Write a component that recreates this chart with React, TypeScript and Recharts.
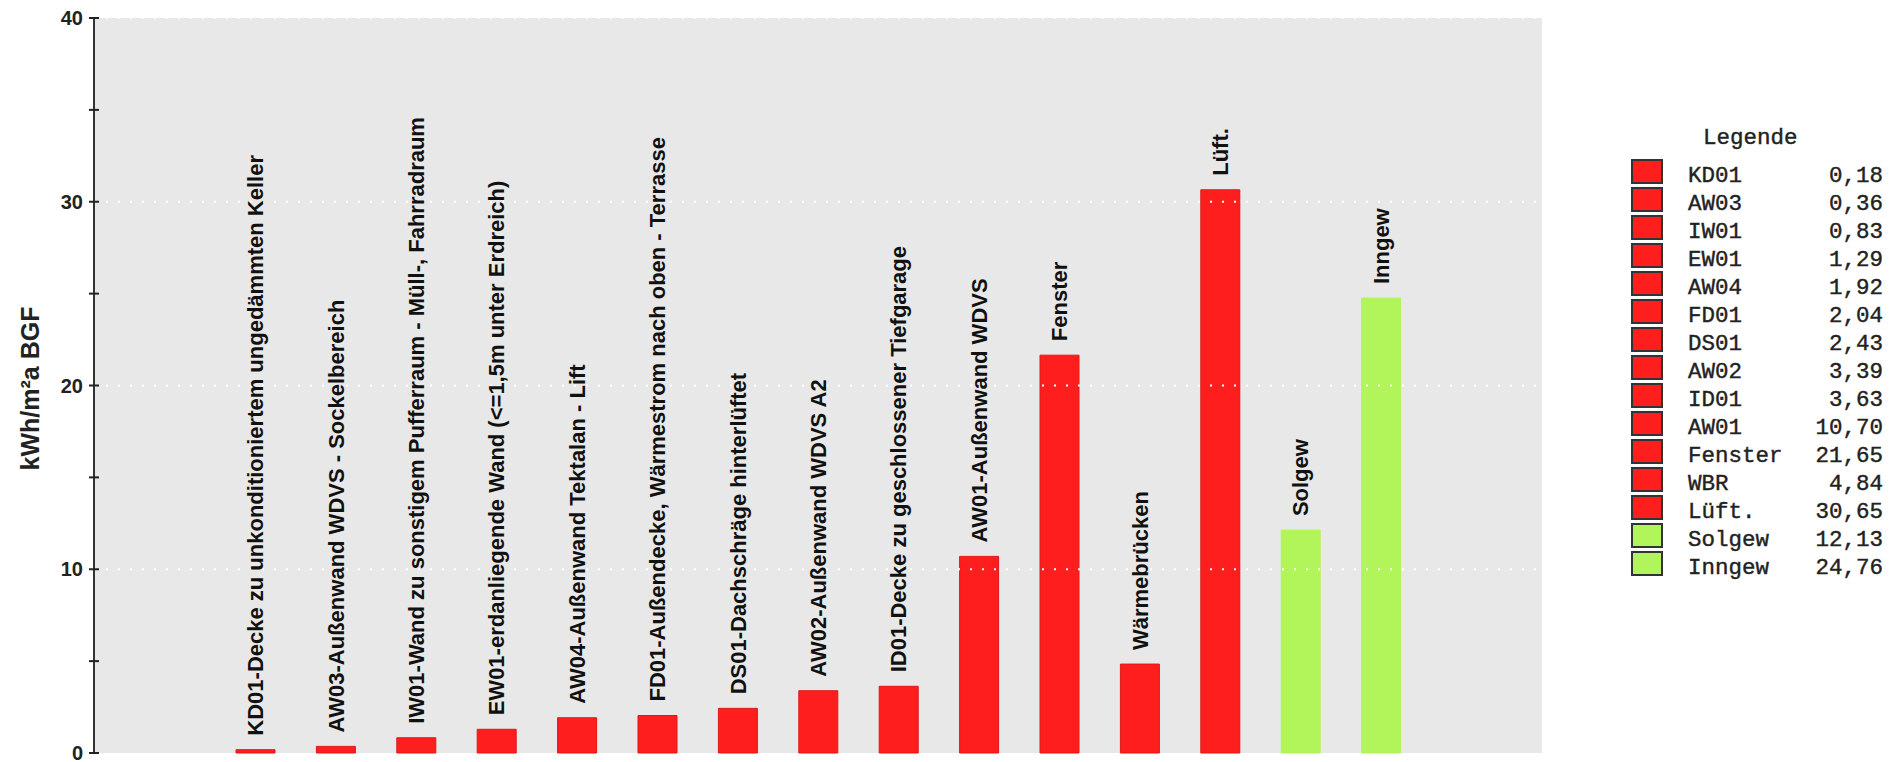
import React from 'react';
import { BarChart, Bar, XAxis, YAxis, Cell, LabelList, ReferenceLine, CartesianGrid } from 'recharts';

const codes = ['KD01', 'AW03', 'IW01', 'EW01', 'AW04', 'FD01', 'DS01', 'AW02', 'ID01', 'AW01', 'Fenster', 'WBR', 'Lüft.', 'Solgew', 'Inngew'];
const barLabels = [
  'KD01-Decke zu unkonditioniertem ungedämmten Keller',
  'AW03-Außenwand WDVS - Sockelbereich',
  'IW01-Wand zu sonstigem Pufferraum - Müll-, Fahrradraum',
  'EW01-erdanliegende Wand (<=1,5m unter Erdreich)',
  'AW04-Außenwand Tektalan - Lift',
  'FD01-Außendecke, Wärmestrom nach oben - Terrasse',
  'DS01-Dachschräge hinterlüftet',
  'AW02-Außenwand WDVS A2',
  'ID01-Decke zu geschlossener Tiefgarage',
  'AW01-Außenwand WDVS',
  'Fenster',
  'Wärmebrücken',
  'Lüft.',
  'Solgew',
  'Inngew',
];
const values = [0.18, 0.36, 0.83, 1.29, 1.92, 2.04, 2.43, 3.39, 3.63, 10.7, 21.65, 4.84, 30.65, 12.13, 24.76];
const kinds = ['loss', 'loss', 'loss', 'loss', 'loss', 'loss', 'loss', 'loss', 'loss', 'loss', 'loss', 'loss', 'loss', 'gain', 'gain'];
const yTicks = [0, 5, 10, 15, 20, 25, 30, 35, 40];
const yLabelledTicks = [0, 10, 20, 30, 40];
const gridValues = [10, 20, 30, 40];
const yAxisTitle = 'kWh/m²a BGF';
const legendTitle = 'Legende';

const COLORS: Record<string, string> = { loss: '#fe1e1e', gain: '#b2f55a' };
const EDGES: Record<string, string> = { loss: '#e01818', gain: '#b2f55a' };

const data = codes.map((c, i) => ({ code: c, label: barLabels[i], value: values[i], kind: kinds[i] }));

const W = 1903;
const H = 762;
const Y_WIDTH = 94;
const MARGIN = { top: 18, right: 361, bottom: 9, left: 0 };
const AXIS_X = MARGIN.left + Y_WIDTH;
const SANS = '"Liberation Sans", Arial, sans-serif';
const MONO = '"Liberation Mono", "Courier New", monospace';

const YTick = (props: any) => {
  const { y, payload } = props;
  const v = payload.value;
  return (
    <g>
      <line x1={AXIS_X - 5} x2={AXIS_X + 5} y1={y} y2={y} stroke="#222" strokeWidth={2} />
      {yLabelledTicks.includes(v) && (
        <text x={AXIS_X - 11} y={y} dy="0.36em" textAnchor="end" fontFamily={SANS} fontWeight="bold" fontSize={20} fill="#222">
          {v}
        </text>
      )}
    </g>
  );
};

const BarLabel = (props: any) => {
  const { x, y, width, value } = props;
  const cx = Number(x) + Number(width) / 2;
  const by = Number(y) - 14;
  return (
    <text
      x={cx}
      y={by}
      dy="0.35em"
      transform={`rotate(-90, ${cx}, ${by})`}
      textAnchor="start"
      fontFamily={SANS}
      fontWeight="bold"
      fontSize={22}
      fill="#111"
    >
      {value}
    </text>
  );
};

const YTitle = (props: any) => {
  const vb = props.viewBox || {};
  const cy = (vb.y ?? MARGIN.top) + (vb.height ?? 0) / 2 + 3;
  const bx = 39;
  return (
    <text x={bx} y={cy} transform={`rotate(-90, ${bx}, ${cy})`} textAnchor="middle" fontFamily={SANS} fontWeight="bold" fontSize={25} fill="#222">
      {yAxisTitle}
    </text>
  );
};

const fmt = (v: number) => v.toFixed(2).replace('.', ',');

const LegendBox = () => {
  const ox = 1600;
  const oy = 100;
  return (
    <svg width={303} height={500} style={{ position: 'absolute', left: ox, top: oy }}>
      <text x={1703 - ox} y={143.5 - oy} fontFamily={MONO} fontSize={22.5} fill="#222" stroke="#222" strokeWidth={0.4}>
        {legendTitle}
      </text>
      {codes.map((c, i) => (
        <g key={c}>
          <rect x={1632 - ox} y={160 + 28 * i - oy} width={30} height={23} fill={COLORS[kinds[i]]} stroke="#333" strokeWidth={2} />
          <text x={1688 - ox} y={182 + 28 * i - oy} fontFamily={MONO} fontSize={22.5} fill="#222" stroke="#222" strokeWidth={0.4}>
            {c}
          </text>
          <text x={1883 - ox} y={182 + 28 * i - oy} textAnchor="end" fontFamily={MONO} fontSize={22.5} fill="#222" stroke="#222" strokeWidth={0.4}>
            {fmt(values[i])}
          </text>
        </g>
      ))}
    </svg>
  );
};

export default function App() {
  return (
    <div style={{ position: 'absolute', left: 0, top: 0, width: W, height: H, background: '#fff' }}>
      <BarChart width={W} height={H} data={data} margin={MARGIN}>
        <CartesianGrid fill="#e8e8e8" horizontal={false} vertical={false} stroke="none" />
        <Bar dataKey="value" barSize={39} isAnimationActive={false}>
          {data.map((d, i) => (
            <Cell key={i} fill={COLORS[d.kind]} stroke={EDGES[d.kind]} strokeWidth={1} />
          ))}
          <LabelList dataKey="label" content={<BarLabel />} />
        </Bar>
        {gridValues.map((g) => (
          <ReferenceLine key={g} y={g} stroke="#ffffff" strokeWidth={2} strokeDasharray="2 10" />
        ))}
        <XAxis
          dataKey="code"
          tick={false}
          tickLine={false}
          height={0}
          padding={{ left: 121, right: 121 }}
          axisLine={{ stroke: '#333', strokeWidth: 2 }}
        />
        <YAxis
          width={Y_WIDTH}
          domain={[0, 40]}
          ticks={yTicks}
          interval={0}
          tickLine={false}
          tick={<YTick />}
          axisLine={{ stroke: '#333', strokeWidth: 2 }}
          label={<YTitle />}
        />
      </BarChart>
      <LegendBox />
    </div>
  );
}
